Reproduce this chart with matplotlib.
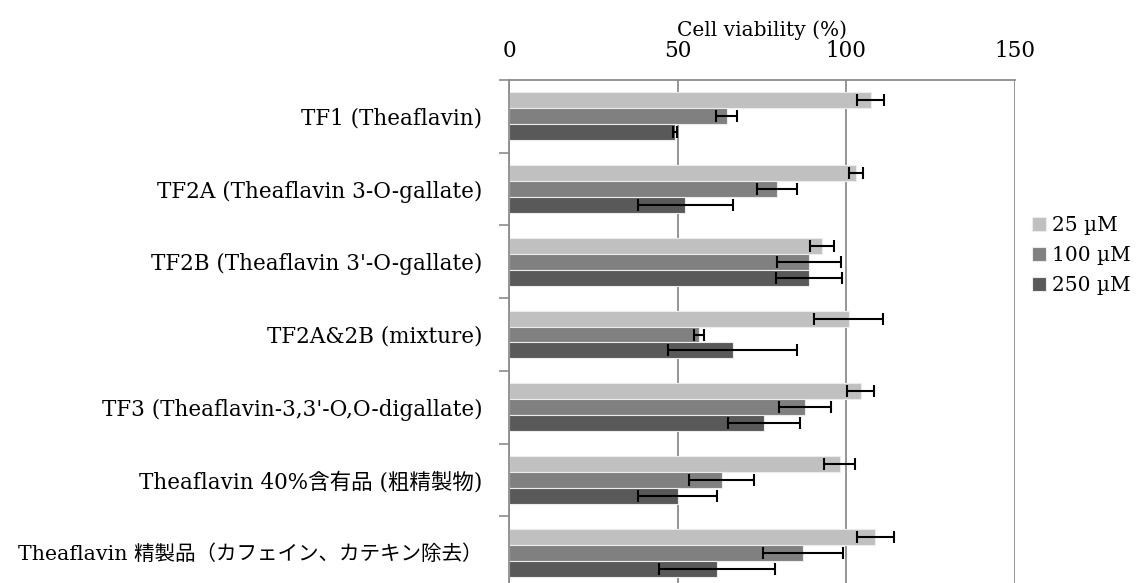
import numpy as np
import matplotlib
matplotlib.use("Agg")
import matplotlib.pyplot as plt

plt.rcParams['font.family'] = ['DejaVu Serif', 'Noto Sans CJK JP']

categories = [
    "TF1 (Theaflavin)",
    "TF2A (Theaflavin 3-O-gallate)",
    "TF2B (Theaflavin 3'-O-gallate)",
    "TF2A&2B (mixture)",
    "TF3 (Theaflavin-3,3'-O,O-digallate)",
    "Theaflavin 40%含有品 (粗精製物)",
    "Theaflavin 精製品（カフェイン、カテキン除去）",
]
series_names = ["25 µM", "100 µM", "250 µM"]
values_25 = [107.2, 102.8, 92.8, 100.7, 104.2, 98.1, 108.6]
err_25 = [4.0, 2.1, 3.6, 10.2, 4.1, 4.6, 5.4]
values_100 = [64.5, 79.5, 88.9, 56.3, 87.7, 63.1, 87.2]
err_100 = [3.0, 6.0, 9.6, 1.6, 7.8, 9.6, 11.8]
values_250 = [49.2, 52.3, 88.9, 66.3, 75.6, 50.0, 61.7]
err_250 = [0.5, 14.2, 9.7, 19.2, 10.8, 11.8, 17.2]

colors = ["#c0c0c0", "#808080", "#595959"]
grid_c = "#8c8c8c"

fig = plt.figure(figsize=(11.37, 5.83), dpi=100)
ax = fig.add_axes([509 / 1137, -6 / 583, (1015 - 509) / 1137, (589 - 80) / 583])

y = np.arange(len(categories))
h = 0.22
for k, (vals, errs) in enumerate([(values_25, err_25), (values_100, err_100), (values_250, err_250)]):
    ax.barh(y + (k - 1) * h, vals, height=h, color=colors[k], edgecolor="#ececec",
            linewidth=0.8, label=series_names[k], zorder=2)
    ax.errorbar(vals, y + (k - 1) * h, xerr=errs, fmt="none", ecolor="black",
                elinewidth=1.5, capsize=4, capthick=1.5, zorder=3)

ax.set_xlim(0, 150)
ax.set_ylim(len(categories) - 0.5, -0.5)
ax.set_xticks([0, 50, 100, 150])
ax.xaxis.tick_top()
ax.xaxis.set_label_position("top")
ax.tick_params(axis="x", length=0, pad=13, labelsize=15.5)
ax.set_xlabel("Cell viability (%)", fontsize=14.5, labelpad=3)
ax.xaxis.grid(True, color=grid_c, linewidth=1.3, zorder=0)
ax.set_axisbelow(True)

ax.set_yticks(np.arange(-0.5, len(categories) + 0.5, 1))
ax.set_yticklabels([])
ax.set_yticks(y, minor=True)
labels = ax.set_yticklabels(categories, minor=True, fontsize=15.5)
labels[-1].set_fontsize(14.8)
ax.tick_params(axis="y", which="major", length=7, color=grid_c, width=1.2)
ax.tick_params(axis="y", which="minor", length=0, pad=19)

for side in ["bottom", "right"]:
    ax.spines[side].set_visible(False)
for side in ["left", "top"]:
    ax.spines[side].set_color(grid_c)
    ax.spines[side].set_linewidth(1.3)

leg = fig.legend(loc="upper left", bbox_to_anchor=(1024 / 1137, 1 - 208 / 583), frameon=False,
                 fontsize=14.5, handlelength=0.7, handleheight=0.7, handletextpad=0.3,
                 labelspacing=0.55, borderaxespad=0)

fig.savefig("out.png", dpi=100)
